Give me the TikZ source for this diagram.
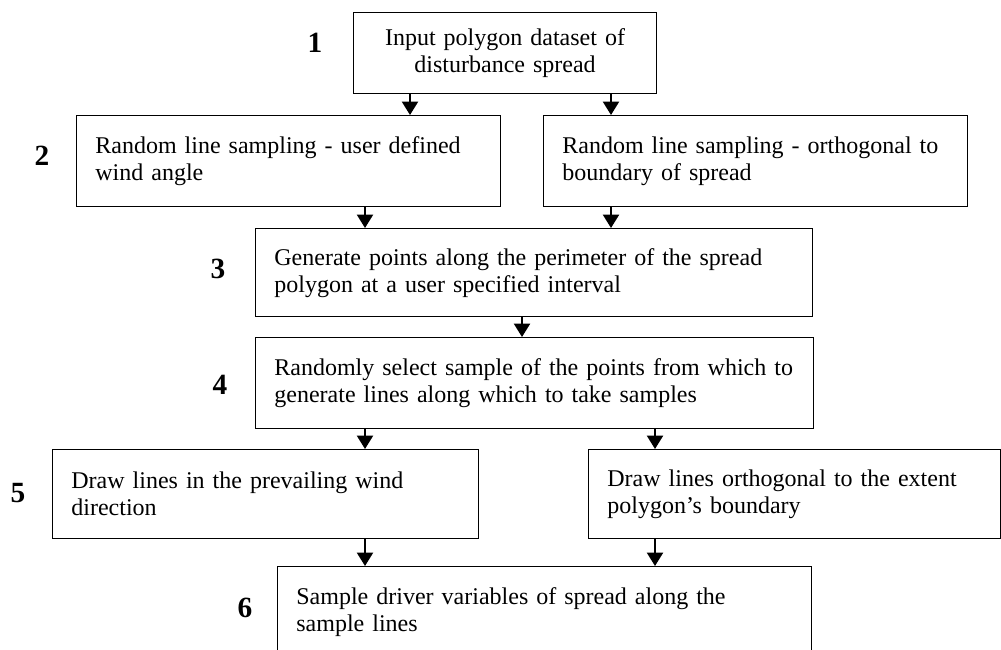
\documentclass[tikz,border=0pt]{standalone}
\usepackage{fontspec}
\setmainfont{Liberation Serif}
\usetikzlibrary{arrows.meta}

\begin{document}
\begin{tikzpicture}[x=0.75pt, y=-0.75pt]
		\tikzset{stepbox/.style={draw, line width = 1.1pt, anchor = north west,
				inner xsep = 14pt, inner ysep = 0pt, align = left,
				font = \fontsize{18}{20.25}\selectfont}}
		\tikzset{stepnum/.style={font = \fontsize{22}{24}\selectfont\bfseries}}
		\tikzset{edge/.style={-{Triangle[width = 12pt, length = 10pt]}, line width = 1.5pt}}
		\useasboundingbox (0, 0) rectangle (1001, 650);
		\clip (0, 0) rectangle (1001, 650);
		%boxes
		\node[stepbox, align = center, text width = 199pt, minimum height = 60.75pt] (input) at (353, 12)
			{Input polygon dataset of\\disturbance spread};
		\node[stepbox, text width = 290pt, minimum height = 68.25pt] (angle) at (76, 115)
			{Random line sampling - user defined\\wind angle};
		\node[stepbox, text width = 290pt, minimum height = 68.25pt] (ortho) at (543, 115)
			{Random line sampling - orthogonal to\\boundary of spread};
		\node[stepbox, text width = 389.75pt, minimum height = 66pt] (points) at (255, 228)
			{Generate points along the perimeter of the spread\\polygon at a user specified interval};
		\node[stepbox, text width = 390.5pt, minimum height = 68.25pt] (select) at (255, 337)
			{Randomly select sample of the points from which to\\generate lines along which to take samples};
		\node[stepbox, text width = 291.5pt, minimum height = 66.75pt] (prevail) at (52, 449)
			{Draw lines in the prevailing wind\\direction};
		\node[stepbox, text width = 281pt, minimum height = 66.75pt] (extent) at (588, 449)
			{Draw lines orthogonal to the extent\\polygon’s boundary};
		\node[stepbox, text width = 372.5pt, minimum height = 68.25pt] (driver) at (277, 566)
			{Sample driver variables of spread along the\\sample lines};
		%step numbers
		\node[stepnum] (n1) at (315, 43) {1};
		\node[stepnum] (n2) at (42, 156) {2};
		\node[stepnum] (n3) at (218, 269) {3};
		\node[stepnum] (n4) at (220, 385) {4};
		\node[stepnum] (n5) at (18, 493) {5};
		\node[stepnum] (n6) at (245, 608) {6};
		%arrow columns
		\coordinate (ca) at (410, 0);
		\coordinate (cb) at (611, 0);
		\coordinate (cc) at (365, 0);
		\coordinate (cd) at (522, 0);
		\coordinate (ce) at (655, 0);
		%edges
		\draw[edge] (input.south -| ca) -- (angle.north -| ca);
		\draw[edge] (input.south -| cb) -- (ortho.north -| cb);
		\draw[edge] (angle.south -| cc) -- (points.north -| cc);
		\draw[edge] (ortho.south -| cb) -- (points.north -| cb);
		\draw[edge] (points.south -| cd) -- (select.north -| cd);
		\draw[edge] (select.south -| cc) -- (prevail.north -| cc);
		\draw[edge] (select.south -| ce) -- (extent.north -| ce);
		\draw[edge] (prevail.south -| cc) -- (driver.north -| cc);
		\draw[edge] (extent.south -| ce) -- (driver.north -| ce);
\end{tikzpicture}
\end{document}
